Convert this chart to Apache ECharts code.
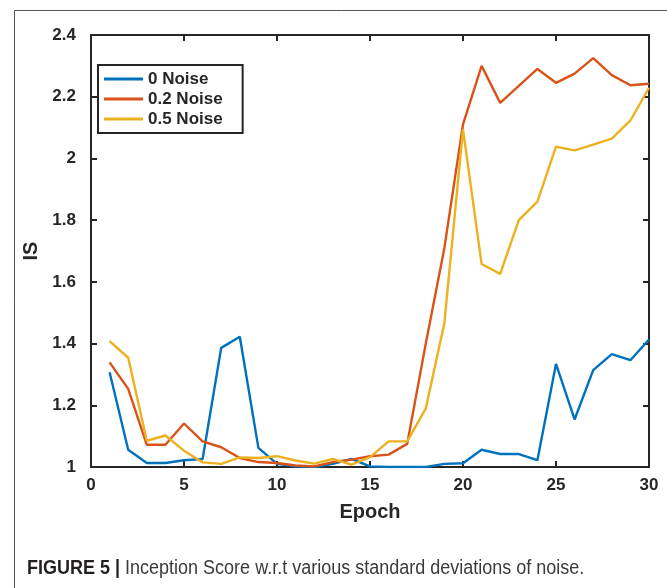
<!DOCTYPE html>
<html>
<head>
<meta charset="utf-8">
<script src="https://cdn.jsdelivr.net/npm/echarts@6/dist/echarts.min.js"></script>
<style>html,body{margin:0;padding:0;background:#fff;}#c{width:667px;height:588px;}</style>
</head>
<body>
<div id="c"></div>
<script>
const epochs = [1,2,3,4,5,6,7,8,9,10,11,12,13,14,15,16,17,18,19,20,21,22,23,24,25,26,27,28,29,30];
const noise0 = [1.307,1.056,1.013,1.013,1.022,1.026,1.386,1.422,1.062,1.010,1.002,1.000,1.010,1.026,1.002,1.000,1.000,1.000,1.010,1.012,1.056,1.042,1.042,1.022,1.334,1.154,1.314,1.366,1.346,1.413];
const noise02 = [1.339,1.253,1.072,1.072,1.141,1.083,1.064,1.029,1.016,1.013,1.005,1.002,1.016,1.024,1.035,1.040,1.075,1.400,1.710,2.110,2.300,2.180,2.235,2.290,2.245,2.275,2.325,2.270,2.237,2.242];
const noise05 = [1.408,1.354,1.085,1.102,1.053,1.015,1.010,1.031,1.029,1.035,1.021,1.011,1.026,1.008,1.032,1.083,1.083,1.190,1.467,2.094,1.658,1.626,1.800,1.860,2.038,2.026,2.045,2.064,2.123,2.229];
const seriesNames = ['0 Noise','0.2 Noise','0.5 Noise'];
const yTicks = [1,1.2,1.4,1.6,1.8,2,2.2,2.4];
const xTicks = [0,5,10,15,20,25,30];
const captionBold = 'FIGURE 5 |';
const captionText = ' Inception Score w.r.t various standard deviations of noise.';

const colors = ['#0072BD','#D95319','#EDB120'];
const fontF = 'Liberation Sans, Arial, sans-serif';
const chart = echarts.init(document.getElementById('c'), null, {renderer:'canvas'});
const pair = arr => arr.map((v,i)=>[epochs[i], v]);
const fmtY = v => String(Math.round(v*10)/10);

const axisLineStyle = {color:'#262626', width:2};
chart.setOption({
  animation:false,
  backgroundColor:'#fff',
  grid:{left:91, right:18, top:35, bottom:121, show:false},
  xAxis:[{
    type:'value', min:0, max:30, interval:5, position:'bottom',
    name:'Epoch', nameLocation:'middle', nameGap:35,
    nameTextStyle:{fontFamily:fontF, fontWeight:'bold', fontSize:20, color:'#262626'},
    axisLine:{show:true, onZero:false, lineStyle:axisLineStyle},
    axisTick:{show:true, inside:true, length:6, lineStyle:axisLineStyle},
    axisLabel:{margin:10, fontFamily:fontF, fontWeight:'bold', fontSize:17, color:'#262626'},
    splitLine:{show:false}
  },{
    type:'value', min:0, max:30, interval:5, position:'top',
    axisLine:{show:true, onZero:false, lineStyle:axisLineStyle},
    axisTick:{show:true, inside:true, length:6, lineStyle:axisLineStyle},
    axisLabel:{show:false}, splitLine:{show:false}
  }],
  yAxis:[{
    type:'value', min:1, max:2.4, interval:0.2, position:'left',
    name:'IS', nameLocation:'middle', nameGap:49, nameRotate:90,
    nameTextStyle:{fontFamily:fontF, fontWeight:'bold', fontSize:20, color:'#262626'},
    axisLine:{show:true, onZero:false, lineStyle:axisLineStyle},
    axisTick:{show:true, inside:true, length:6, lineStyle:axisLineStyle},
    axisLabel:{margin:15, fontFamily:fontF, fontWeight:'bold', fontSize:17, color:'#262626', formatter:fmtY},
    splitLine:{show:false}
  },{
    type:'value', min:1, max:2.4, interval:0.2, position:'right',
    axisLine:{show:true, onZero:false, lineStyle:axisLineStyle},
    axisTick:{show:true, inside:true, length:6, lineStyle:axisLineStyle},
    axisLabel:{show:false}, splitLine:{show:false}
  }],
  legend:{
    show:true, left:98, top:65, orient:'vertical',
    padding:[4,20,4,6], itemGap:0, itemWidth:39, itemHeight:3,
    borderColor:'#262626', borderWidth:2, backgroundColor:'#fff',
    icon:'rect',
    textStyle:{fontFamily:fontF, fontWeight:'bold', fontSize:17, lineHeight:20, color:'#262626'},
    data:seriesNames
  },
  series:[
    {name:seriesNames[0], type:'line', data:pair(noise0), showSymbol:false, symbol:'none', lineStyle:{width:2.4, color:colors[0]}, itemStyle:{color:colors[0]}, z:3},
    {name:seriesNames[1], type:'line', data:pair(noise02), showSymbol:false, symbol:'none', lineStyle:{width:2.4, color:colors[1]}, itemStyle:{color:colors[1]}, z:4},
    {name:seriesNames[2], type:'line', data:pair(noise05), showSymbol:false, symbol:'none', lineStyle:{width:2.4, color:colors[2]}, itemStyle:{color:colors[2]}, z:5}
  ],
  graphic:[
    {type:'rect', left:12, top:8, shape:{width:654, height:600}, style:{fill:'none', stroke:'#555', lineWidth:1}, silent:true, z:-1},
    {type:'text', x:27, y:568, scaleX:0.9, style:{
      text:'{b|'+captionBold+'}{r|'+captionText+'}',
      verticalAlign:'middle',
      rich:{
        b:{fontFamily:'Liberation Sans, Arial', fontWeight:'bold', fontSize:20, fill:'#231f20'},
        r:{fontFamily:'Liberation Sans, Arial', fontSize:20, fill:'#3a3a3a'}
      }
    }}
  ]
});
</script>
</body>
</html>
